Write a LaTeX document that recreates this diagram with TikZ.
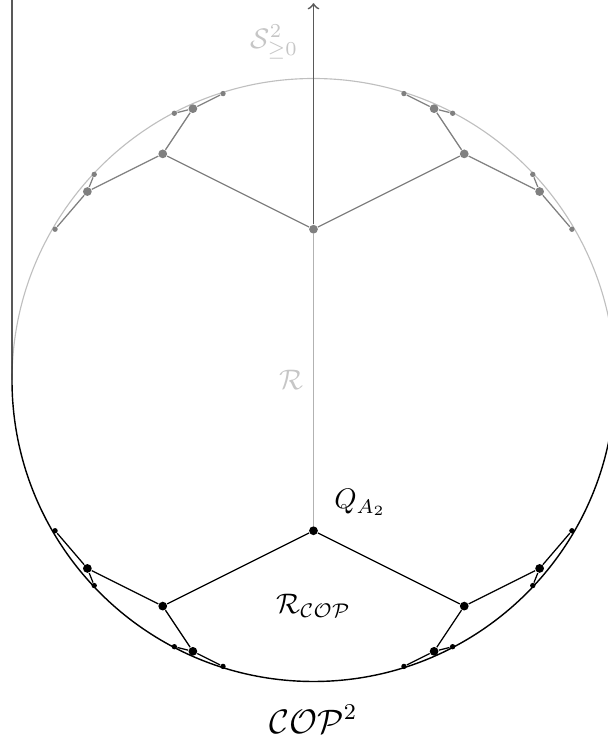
\documentclass[tikz,border=0pt]{standalone}
\usetikzlibrary{positioning}
\tikzset{
  bigdot/.style={circle, fill, inner sep=0pt, minimum size=3.1pt},
  smalldot/.style={circle, fill, inner sep=0pt, minimum size=1.9pt}
}
\begin{document}
\begin{tikzpicture}[x=3.75cm, y=3.75cm]
\clip (-1.0398,-1.2007) rectangle (0.9768,1.2604);
\draw[gray!50] (-1,0) arc[start angle=180, end angle=0, radius=1];
\draw[line width=0.5pt] (-1,1.3) -- (-1,0) arc[start angle=180, end angle=360, radius=1] -- (1,1.3);
\node[bigdot, gray] (g0) at (0,0.5) {};
\node[bigdot] (b0) at (0,-0.5) {};
\coordinate (tip) at (0,1.25);
\draw[->, semithick, black!65] (g0) -- (tip);
\draw[gray!60, semithick] (g0) -- (b0);
\foreach \t/\v/\c in {g/1/gray, b/-1/black}
  \foreach \s/\h in {l/-1, r/1} {
    \node[bigdot, \c] (\t\s1) at ({0.5*\h},{0.75*\v}) {};
    \node[bigdot, \c] (\t\s2) at ({0.75*\h},{0.625*\v}) {};
    \node[bigdot, \c] (\t\s3) at ({0.4*\h},{0.9*\v}) {};
    \node[smalldot, \c] (\t\s4) at ({0.857143*\h},{0.5*\v}) {};
    \node[smalldot, \c] (\t\s5) at ({0.727273*\h},{0.681818*\v}) {};
    \node[smalldot, \c] (\t\s6) at ({0.461538*\h},{0.884615*\v}) {};
    \node[smalldot, \c] (\t\s7) at ({0.3*\h},{0.95*\v}) {};
    \draw[\c, line width=0.45pt] (\t0) -- (\t\s1) (\t\s2) -- (\t\s1) -- (\t\s3)
      (\t\s4) -- (\t\s2) -- (\t\s5) (\t\s6) -- (\t\s3) -- (\t\s7);
  }
\node[gray!45] (slabel) at (-0.13,1.12) {$\mathcal{S}^2_{\geq 0}$};
\node[gray!45, left] (rlabel) at (0,0) {$\mathcal{R}$};
\node[above right=0.5pt and 2.6pt of b0] (qlabel) {$Q_{A_2}$};
\node (rcop) at (0,-0.75) {$\mathcal{R}_{\mathcal{COP}}$};
\node[font=\large] (cop) at (0,-1.125) {$\mathcal{COP}^2$};
\end{tikzpicture}
\end{document}
